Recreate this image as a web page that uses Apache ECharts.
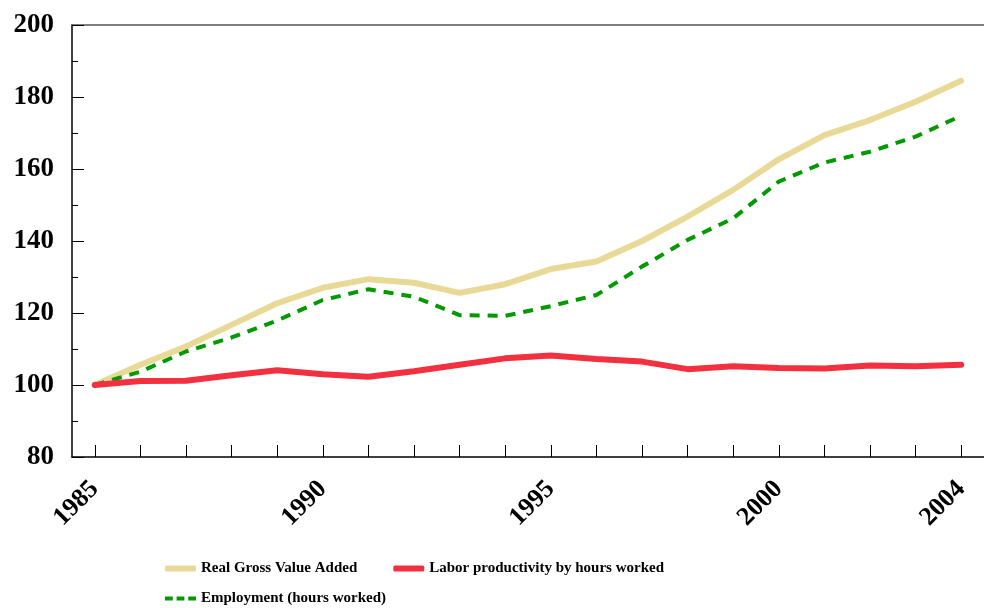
<!DOCTYPE html>
<html>
<head>
<meta charset="utf-8">
<script src="https://cdn.jsdelivr.net/npm/echarts@6/dist/echarts.min.js"></script>
<style>
  html, body { margin: 0; padding: 0; background: #fff; }
  #chart { width: 984px; height: 608px; }
</style>
</head>
<body>
<div id="chart"></div>
<script>
// years on the x axis
var years = ['1985', '1986', '1987', '1988', '1989', '1990', '1991', '1992', '1993', '1994',
             '1995', '1996', '1997', '1998', '1999', '2000', '2001', '2002', '2003', '2004'];

// index, 1985 = 100
var realGVA = [100, 105.6, 110.7, 116.7, 122.7, 127.0, 129.4, 128.4, 125.6, 128.0,
               132.2, 134.3, 140.0, 146.8, 154.2, 162.7, 169.4, 173.6, 178.7, 184.5];
var laborProd = [100, 101.1, 101.2, 102.7, 104.1, 103.0, 102.3, 103.8, 105.6, 107.4,
                 108.2, 107.2, 106.5, 104.4, 105.2, 104.7, 104.6, 105.4, 105.2, 105.6];
var employment = [100, 103.7, 109.3, 113.2, 117.9, 123.6, 126.6, 124.5, 119.4, 119.2,
                  121.9, 125.0, 132.9, 140.3, 146.3, 156.5, 161.8, 164.8, 169.0, 174.8];

var labelYears = ['1985', '1990', '1995', '2000', '2004'];

var FONT = '"Liberation Serif", "Times New Roman", serif';
var legendText = { fontFamily: FONT, fontWeight: 'bold', fontSize: 15, color: '#000' };
var dashIcon = 'path://M0,0H8V4H0Z M12,0H20V4H12Z M24,0H32V4H24Z';

var chart = echarts.init(document.getElementById('chart'));

var option = {
    animation: false,
    backgroundColor: '#fff',
    grid: { left: 72, right: -2, top: 25, bottom: 151, containLabel: false },
    legend: [{
        data: [
            { name: 'Real Gross Value Added', icon: 'roundRect' },
            { name: 'Labor productivity by hours worked', icon: 'roundRect' }
        ],
        left: 160, top: 556,
        itemWidth: 31, itemHeight: 6, itemGap: 36,
        textStyle: legendText
    }, {
        data: [{ name: 'Employment (hours worked)', icon: dashIcon }],
        left: 160, top: 586,
        itemWidth: 31, itemHeight: 5,
        textStyle: legendText
    }],
    xAxis: [{
        type: 'category',
        data: years,
        boundaryGap: true,
        axisLine: { lineStyle: { color: '#000', width: 1.5 } },
        axisTick: { show: true, inside: true, length: 12, interval: 0, alignWithLabel: true },
        axisLabel: {
            rotate: 45, margin: 28,
            interval: function (idx, val) { return labelYears.indexOf(val) >= 0; },
            fontFamily: FONT, fontWeight: 'bold', fontSize: 26, color: '#000'
        },
        splitLine: { show: false }
    }, {
        // top border of the plot
        type: 'category',
        position: 'top',
        data: years,
        axisLine: { lineStyle: { color: '#555', width: 1.5 } },
        axisTick: { show: false },
        axisLabel: { show: false }
    }],
    yAxis: {
        type: 'value',
        min: 80, max: 200, interval: 20,
        axisLine: { show: true, lineStyle: { color: '#000', width: 1.5 } },
        axisTick: { show: true, inside: true, length: 12 },
        minorTick: { show: true, splitNumber: 2, length: 6, lineStyle: { color: '#000', width: 1 } },
        axisLabel: { margin: 18, fontFamily: FONT, fontWeight: 'bold', fontSize: 27, color: '#000' },
        splitLine: { show: false }
    },
    series: [{
        name: 'Real Gross Value Added',
        type: 'line',
        data: realGVA,
        symbol: 'none',
        color: '#E8DA96',
        lineStyle: { color: '#E8DA96', width: 6, cap: 'round' }
    }, {
        name: 'Employment (hours worked)',
        type: 'line',
        data: employment,
        symbol: 'none',
        color: '#009900',
        lineStyle: { color: '#009900', width: 4, type: [10, 8] }
    }, {
        name: 'Labor productivity by hours worked',
        type: 'line',
        data: laborProd,
        symbol: 'none',
        color: '#F2303F',
        lineStyle: { color: '#F2303F', width: 6, cap: 'round' }
    }]
};

chart.setOption(option);
</script>
</body>
</html>
